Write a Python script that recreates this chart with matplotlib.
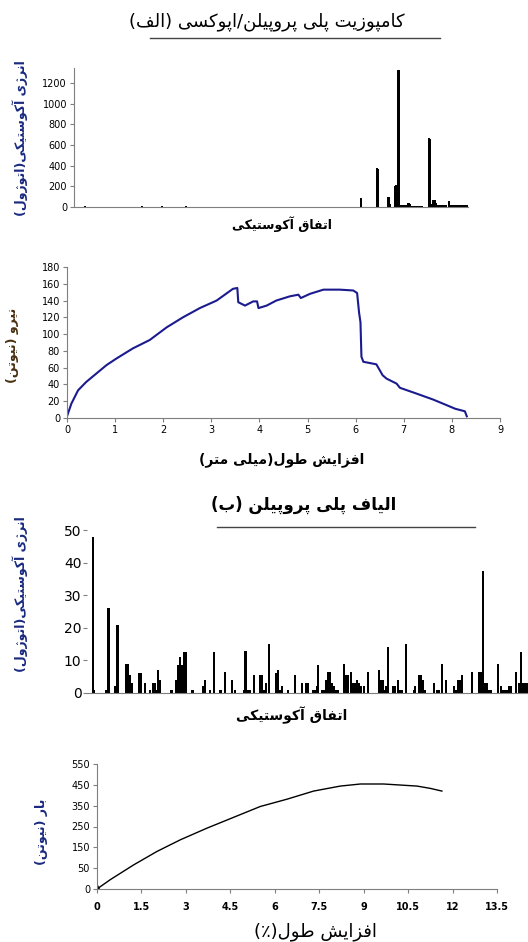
import matplotlib
matplotlib.use('Agg')
import matplotlib.pyplot as plt
from matplotlib.lines import Line2D

plt.rcParams['font.family'] = ['DejaVu Sans']

# --- minimal Persian shaping (presentation forms, visual order) ---
FORMS = {
    'ا': ('\uFE8D', '\uFE8E'), 'آ': ('\uFE81', '\uFE82'),
    'د': ('\uFEA9', '\uFEAA'), 'ر': ('\uFEAD', '\uFEAE'),
    'ز': ('\uFEAF', '\uFEB0'), 'ژ': ('\uFB8A', '\uFB8B'),
    'و': ('\uFEED', '\uFEEE'),
    'ب': ('\uFE8F', '\uFE90', '\uFE91', '\uFE92'),
    'پ': ('\uFB56', '\uFB57', '\uFB58', '\uFB59'),
    'ت': ('\uFE95', '\uFE96', '\uFE97', '\uFE98'),
    'س': ('\uFEB1', '\uFEB2', '\uFEB3', '\uFEB4'),
    'ش': ('\uFEB5', '\uFEB6', '\uFEB7', '\uFEB8'),
    'ط': ('\uFEC1', '\uFEC2', '\uFEC3', '\uFEC4'),
    'ف': ('\uFED1', '\uFED2', '\uFED3', '\uFED4'),
    'ق': ('\uFED5', '\uFED6', '\uFED7', '\uFED8'),
    'ک': ('\uFB8E', '\uFB8F', '\uFB90', '\uFB91'),
    'ل': ('\uFEDD', '\uFEDE', '\uFEDF', '\uFEE0'),
    'م': ('\uFEE1', '\uFEE2', '\uFEE3', '\uFEE4'),
    'ن': ('\uFEE5', '\uFEE6', '\uFEE7', '\uFEE8'),
    'ی': ('\uFBFC', '\uFBFD', '\uFBFE', '\uFBFF'),
}
MIRROR = {'(': ')', ')': '('}


def fa(text):
    out = []
    for i, ch in enumerate(text):
        if ch not in FORMS:
            out.append(MIRROR.get(ch, ch))
            continue
        prev = text[i - 1] if i > 0 else ''
        nxt = text[i + 1] if i + 1 < len(text) else ''
        join_prev = prev in FORMS and len(FORMS[prev]) == 4
        join_next = len(FORMS[ch]) == 4 and nxt in FORMS
        f = FORMS[ch]
        if join_prev and join_next:
            out.append(f[3])
        elif join_prev:
            out.append(f[1])
        elif join_next:
            out.append(f[2])
        else:
            out.append(f[0])
    return ''.join(out[::-1])


# --- data ---
title_a = 'کامپوزیت پلی پروپیلن/اپوکسی (الف)'
title_b = 'الیاف پلی پروپیلن (ب)'
event_label = 'اتفاق آکوستیکی'
energy_label = 'انرژی آکوستیکی(اتوژول)'
force_label = 'نیرو (نیوتن)'
load_label = 'بار (نیوتن)'
ext_mm_label = 'افزایش طول(میلی متر)'
ext_pct_label = 'افزایش طول(٪)'

# (a) acoustic events of the composite
events_a = [11, 68, 88, 112, 287, 303, 304, 314, 315, 316, 321, 322, 324, 325,
            327, 329, 331, 333, 334, 335, 336, 338, 340, 342, 344, 346, 348,
            355, 356, 358, 359, 360, 361, 362, 364, 366, 368, 370, 372, 375,
            377, 379, 381, 383, 385, 387, 389, 391, 393]
energy_a = [8, 8, 8, 8, 90, 375, 370, 100, 95, 30, 200, 210, 1330, 1330,
            15, 15, 15, 15, 40, 35, 25, 10, 10, 10, 10, 10, 10,
            670, 660, 30, 70, 70, 65, 40, 15, 15, 15, 15, 20, 60,
            15, 15, 15, 15, 15, 15, 15, 15, 15]

# (a) force vs extension (mm)
ext_mm = [0, 0.09, 0.23, 0.4, 0.61, 0.82, 1.03, 1.37, 1.72, 2.07, 2.41, 2.76,
          3.11, 3.45, 3.54, 3.56, 3.7, 3.87, 3.95, 3.98, 4.15, 4.35, 4.63,
          4.81, 4.86, 5.05, 5.33, 5.67, 5.95, 6.03, 6.07, 6.1, 6.12, 6.16,
          6.43, 6.56, 6.64, 6.85, 6.92, 7.27, 7.61, 7.82, 8.07, 8.27, 8.31]
force_n = [2, 17, 33, 43, 53, 63, 71, 83, 93, 108, 120, 131,
           140, 154, 155, 138, 134, 139, 139, 131, 134, 140, 145,
           147, 143, 148, 153, 153, 152, 149, 126, 114, 73, 67,
           64, 51, 47, 41, 36, 29, 22, 17, 11, 8, 2]

# (b) acoustic events of the fibre
events_b = [6, 7, 19, 21, 22, 28, 30, 31, 39, 41, 43, 45, 52, 54, 58, 63, 66,
            68, 70, 71, 73, 84, 85, 89, 91, 93, 95, 97, 99, 105, 106, 116, 118,
            123, 127, 133, 134, 138, 145, 148, 157, 158, 159, 161, 163, 167,
            173, 175, 177, 179, 182, 189, 191, 193, 195, 201, 208, 215, 219,
            221, 226, 228, 230, 231, 235, 237, 239, 241, 243, 245, 247, 249,
            251, 257, 259, 261, 264, 266, 268, 270, 272, 274, 277, 281, 292,
            294, 296, 298, 299, 301, 306, 308, 311, 313, 315, 319, 327, 328,
            332, 334, 336, 338, 347, 350, 352, 355, 359, 367, 369, 371, 373,
            375, 385, 392, 394, 396, 398, 400, 402, 404, 411, 414, 416, 418,
            420, 422, 424, 429, 432, 434, 436, 438, 440]
energy_b = [48, 1, 1, 26, 26, 2, 21, 21, 9, 9, 5.5, 3, 6, 6, 3, 1, 3,
            3, 1, 7, 4, 1, 1, 4, 8.5, 11, 8.5, 12.5, 12.5, 1, 1, 2, 4,
            1, 12.5, 1, 1, 6.3, 4, 1, 1, 13, 13, 1, 1, 5.5,
            5.5, 5.5, 1, 3, 15, 6, 7, 1, 2, 1, 5.5, 3, 3,
            3, 1, 1, 2, 8.5, 1, 1, 4, 6.3, 6.3, 3, 2, 1,
            1, 9, 5.5, 5.5, 6.3, 3, 3, 4, 3, 2, 2, 6.3, 7,
            4, 4, 1, 2, 14, 2, 2, 4, 1, 1, 15, 1, 2,
            5.5, 5.5, 4, 1, 3, 1, 1, 9, 4, 2, 1, 4, 4,
            5.5, 6.3, 6.3, 6.3, 37.5, 3, 3, 1, 1, 9, 2, 1, 1,
            1, 2, 2, 6.3, 3, 12.5, 3, 3, 3]

# (b) load vs extension (%), y ticks are evenly spaced in the original
ext_pct = [0, 0.45, 1.24, 2.02, 2.81, 3.71, 4.61, 5.51, 6.41, 7.31, 8.21,
           8.89, 9.67, 10.24, 10.8, 11.25, 11.64]
load_n = [0, 45, 116, 180, 236, 292, 344, 396, 431, 470, 494,
          504, 504, 499, 494, 483, 470]
load_ticklabels = ['0', '50', '150', '250', '350', '450', '550']
pct_ticks = [0, 1.5, 3, 4.5, 6, 7.5, 9, 10.5, 12, 13.5]

W, H = 528, 942
fig = plt.figure(figsize=(W / 100, H / 100), dpi=100)


def box(l, t, r, b):
    return [l / W, 1 - b / H, (r - l) / W, (b - t) / H]


def ftext(x, y, s, **kw):
    kw.setdefault('fontweight', 'bold')
    fig.text(x / W, 1 - y / H, fa(s), ha='center', va='center', **kw)


def hline(x0, x1, y):
    fig.add_artist(Line2D([x0 / W, x1 / W], [1 - y / H] * 2,
                          transform=fig.transFigure, color='#444444', lw=1))


gray = '#7f7f7f'

# ---- panel 1: acoustic energy, composite ----
ax1 = fig.add_axes(box(74, 68, 468, 207))
ax1.bar(events_a, energy_a, width=1.5, color='black')
ax1.set_xlim(0, 394)
ax1.set_ylim(0, 1345)
ax1.set_yticks(range(0, 1201, 200))
ax1.set_xticks([])
for s in ['top', 'right']:
    ax1.spines[s].set_visible(False)
ax1.spines['left'].set_color(gray)
ax1.spines['bottom'].set_color(gray)
ax1.tick_params(axis='y', labelsize=7, length=3, color=gray, pad=2)

ftext(267, 22, title_a, fontsize=13, fontweight='normal')
hline(150, 440, 38)
ftext(282, 224, event_label, fontsize=9)
ftext(20, 138, energy_label, fontsize=9, rotation=90, color='#1a2a80')

# ---- panel 2: force vs extension ----
ax2 = fig.add_axes(box(67, 267, 500, 418))
ax2.plot(ext_mm, force_n, color='#1b1b8f', lw=1.5)
ax2.set_xlim(0, 9)
ax2.set_ylim(0, 180)
ax2.set_xticks(range(0, 10))
ax2.set_yticks(range(0, 181, 20))
for s in ['top', 'right']:
    ax2.spines[s].set_visible(False)
ax2.spines['left'].set_color(gray)
ax2.spines['bottom'].set_color(gray)
ax2.tick_params(labelsize=7, length=3, color=gray, pad=2)

ftext(282, 460, ext_mm_label, fontsize=10)
ftext(13, 345, force_label, fontsize=9, rotation=90, color='#4a3010')

# ---- panel 3: acoustic energy, fibre ----
ax3 = fig.add_axes(box(87, 530, 528, 693))
ax3.bar(events_b, energy_b, width=1.6, color='black')
ax3.set_xlim(0, 441)
ax3.set_ylim(0, 50)
ax3.set_yticks(range(0, 51, 10))
ax3.set_xticks([])
for s in ['top', 'right', 'left']:
    ax3.spines[s].set_visible(False)
ax3.spines['bottom'].set_color(gray)
ax3.tick_params(axis='y', labelsize=10, length=3, color=gray, pad=1)

ftext(304, 505, title_b, fontsize=12)
hline(217, 475, 527)
ftext(292, 715, event_label, fontsize=10)
ftext(20, 594, energy_label, fontsize=9, rotation=90, color='#1a2a80')

# ---- panel 4: load vs extension (%) ----
ax4 = fig.add_axes(box(97, 764, 497, 889))
ax4.plot(ext_pct, load_n, color='black', lw=1)
ax4.plot(ext_pct[:1], load_n[:1], marker='^', color='black', ms=6)
ax4.set_xlim(0, 13.5)
ax4.set_ylim(0, 600)
ax4.set_xticks(pct_ticks)
ax4.set_xticklabels([f'{t:g}' for t in pct_ticks], fontweight='bold')
ax4.set_yticks(range(0, 601, 100))
ax4.set_yticklabels(load_ticklabels)
for s in ['top', 'right']:
    ax4.spines[s].set_visible(False)
ax4.spines['left'].set_color(gray)
ax4.spines['bottom'].set_color(gray)
ax4.tick_params(labelsize=7, length=3, color=gray, pad=2)
ax4.tick_params(axis='x', pad=6)

ftext(315, 932, ext_pct_label, fontsize=13, fontweight='normal')
ftext(42, 832, load_label, fontsize=9, rotation=90, color='#1a2a80')

fig.savefig('out.png', dpi=100)
